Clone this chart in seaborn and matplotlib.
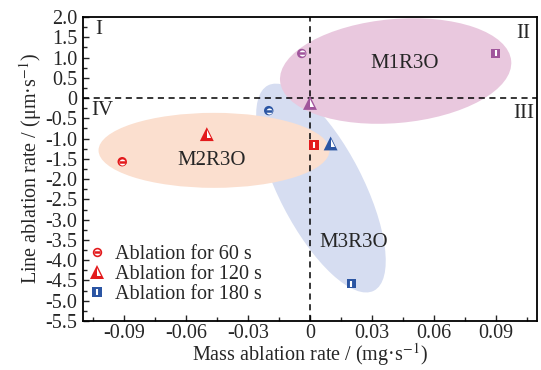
import pandas as pd
import matplotlib.pyplot as plt
import matplotlib.transforms as mtransforms
import seaborn as sns
from matplotlib.lines import Line2D
from matplotlib.markers import MarkerStyle
from matplotlib.patches import Ellipse
from matplotlib.ticker import MultipleLocator, FuncFormatter

# 样式设置
sns.set_style('ticks')
plt.rcParams['font.family'] = ['Liberation Serif', 'DejaVu Serif']
plt.rcParams['mathtext.fontset'] = 'stix'
plt.rcParams['axes.unicode_minus'] = True

# 数据
samples = ['M1R3O'] * 3 + ['M2R3O'] * 3 + ['M3R3O'] * 3
times = [60, 120, 180] * 3
mass_rate = [-0.004, 0.000, 0.090, -0.091, -0.050, 0.002, -0.020, 0.010, 0.020]
line_rate = [1.10, -0.12, 1.10, -1.57, -0.89, -1.16, -0.31, -1.12, -4.58]

sample_colors = {'M1R3O': '#a0559c', 'M2R3O': '#e31a1c', 'M3R3O': '#2b55a3'}
time_markers = {60: 'o', 120: '^', 180: 's'}
time_sizes = {60: 46, 120: 100, 180: 46}
legend_labels = ['Ablation for 60 s', 'Ablation for 120 s', 'Ablation for 180 s']
legend_colors = ['#e31a1c', '#e31a1c', '#2b55a3']

# 分组椭圆（中心为数据坐标，宽高为像素）
ell_names = ['M3R3O', 'M1R3O', 'M2R3O']
ell_center = [(0.0053, -2.22), (0.0415, 0.667), (-0.0465, -1.29)]
ell_size = [(231, 84), (232, 104), (231, 75)]
ell_angle = [-62.7, 5, 0]
ell_fill = ['#d6ddf1', '#e9c8de', '#fbdfcf']
name_pos = [(0.0213, -3.56), (0.046, 0.86), (-0.0475, -1.53)]

quadrants = ['I', 'II', 'III', 'IV']
quad_pos = [(-0.104, 1.69), (0.1066, 1.60), (0.1085, -0.38), (-0.106, -0.30)]
quad_ha = ['left', 'right', 'right', 'left']

xlim = (-0.11, 0.11)
ylim = (-5.5, 2.0)

df = pd.DataFrame({'sample': samples, 'time': times,
                   'mass': mass_rate, 'line': line_rate})

fig = plt.figure(figsize=(5.41, 3.70), dpi=100)
ax = fig.add_axes([83 / 541, 1 - 321 / 370, 454 / 541, 304 / 370])
ax.set_xlim(*xlim)
ax.set_ylim(*ylim)

# 像素/数据单位比例，用于画不受纵横比影响的椭圆
kx = 454 / (xlim[1] - xlim[0])
ky = 304 / (ylim[1] - ylim[0])
px_trans = mtransforms.Affine2D().scale(1 / kx, 1 / ky) + ax.transData
for (cx, cy), (w, h), ang, fc, nm, (tx, ty) in zip(ell_center, ell_size, ell_angle,
                                                   ell_fill, ell_names, name_pos):
    ax.add_patch(Ellipse((cx * kx, cy * ky), w, h, angle=ang, facecolor=fc,
                         edgecolor='none', transform=px_trans, zorder=1))
    ax.text(tx, ty, nm, fontsize=15, ha='center', va='center', zorder=5)

ax.axhline(0, color='black', lw=1.1, ls=(0, (4, 3)), zorder=2)
ax.axvline(0, color='black', lw=1.1, ls=(0, (4, 3)), zorder=2)

# 基础标记
sns.scatterplot(data=df, x='mass', y='line', hue='sample', style='time',
                size='time', sizes=time_sizes, markers=time_markers,
                palette=sample_colors, linewidth=0, legend=False, ax=ax, zorder=3)

# 标记内部的白色细节
for t, sub in df.groupby('time'):
    cols = [sample_colors[s] for s in sub['sample']]
    s0 = time_sizes[t]
    if t == 60:
        ax.scatter(sub['mass'], sub['line'], s=s0 * 0.42, c='white', marker='o',
                   linewidths=0, zorder=4)
        ax.scatter(sub['mass'], sub['line'], s=s0 * 0.55, c=cols, marker='_',
                   linewidths=1.8, zorder=4)
    elif t == 120:
        ax.scatter(sub['mass'], sub['line'], s=s0 * 0.36, c='white',
                   marker=MarkerStyle('^', fillstyle='right'), linewidths=0, zorder=4)
    else:
        ax.scatter(sub['mass'], sub['line'], s=s0 * 0.4, c='white', marker='|',
                   linewidths=1.5, zorder=4)

# 图例
handles = []
for t, col in zip([60, 120, 180], legend_colors):
    ms = time_sizes[t] ** 0.5
    base = Line2D([], [], ls='', marker=time_markers[t], ms=ms, mfc=col, mec=col, mew=0)
    if t == 60:
        h = (base,
             Line2D([], [], ls='', marker='o', ms=ms * 0.65, mfc='white', mew=0),
             Line2D([], [], ls='', marker='_', ms=ms * 0.74, mec=col, mew=1.8))
    elif t == 120:
        h = (base, Line2D([], [], ls='', marker='^', fillstyle='right', ms=ms * 0.6,
                          mfc='white', mfcalt='none', mew=0))
    else:
        h = (base, Line2D([], [], ls='', marker='|', ms=ms * 0.63, mec='white', mew=1.5))
    handles.append(h)
ax.legend(handles, legend_labels, loc='upper left', bbox_to_anchor=(0.009, 0.25),
          frameon=False, fontsize=14.5, handlelength=1.0, handletextpad=0.4,
          labelspacing=0.05, borderpad=0, borderaxespad=0)

for q, (qx, qy), ha in zip(quadrants, quad_pos, quad_ha):
    ax.text(qx, qy, q, fontsize=15, ha=ha, va='center')

# 坐标轴
ax.xaxis.set_major_locator(MultipleLocator(0.03))
ax.xaxis.set_minor_locator(MultipleLocator(0.015))
ax.yaxis.set_major_locator(MultipleLocator(0.5))
ax.yaxis.set_minor_locator(MultipleLocator(0.25))
ax.xaxis.set_major_formatter(FuncFormatter(lambda v, _: '0' if abs(v) < 1e-9 else f'{v:.2f}'))
ax.yaxis.set_major_formatter(FuncFormatter(lambda v, _: '0' if abs(v) < 1e-9 else f'{v:.1f}'))
ax.tick_params(which='both', direction='in', top=False, right=False, width=1.0)
ax.tick_params(which='major', length=4, labelsize=14.5)
ax.tick_params(axis='x', which='major', pad=2)
ax.tick_params(axis='y', which='major', pad=4)
ax.tick_params(which='minor', length=3)
for sp in ax.spines.values():
    sp.set_linewidth(1.3)
    sp.set_color('black')

ax.set_xlabel('Mass ablation rate / (mg·s$^{-1}$)', fontsize=14.5, labelpad=-1)
ax.set_ylabel('Line ablation rate / (μm·s$^{-1}$)', fontsize=14.5, labelpad=1)

fig.savefig('out.png', dpi=100)
plt.close(fig)
